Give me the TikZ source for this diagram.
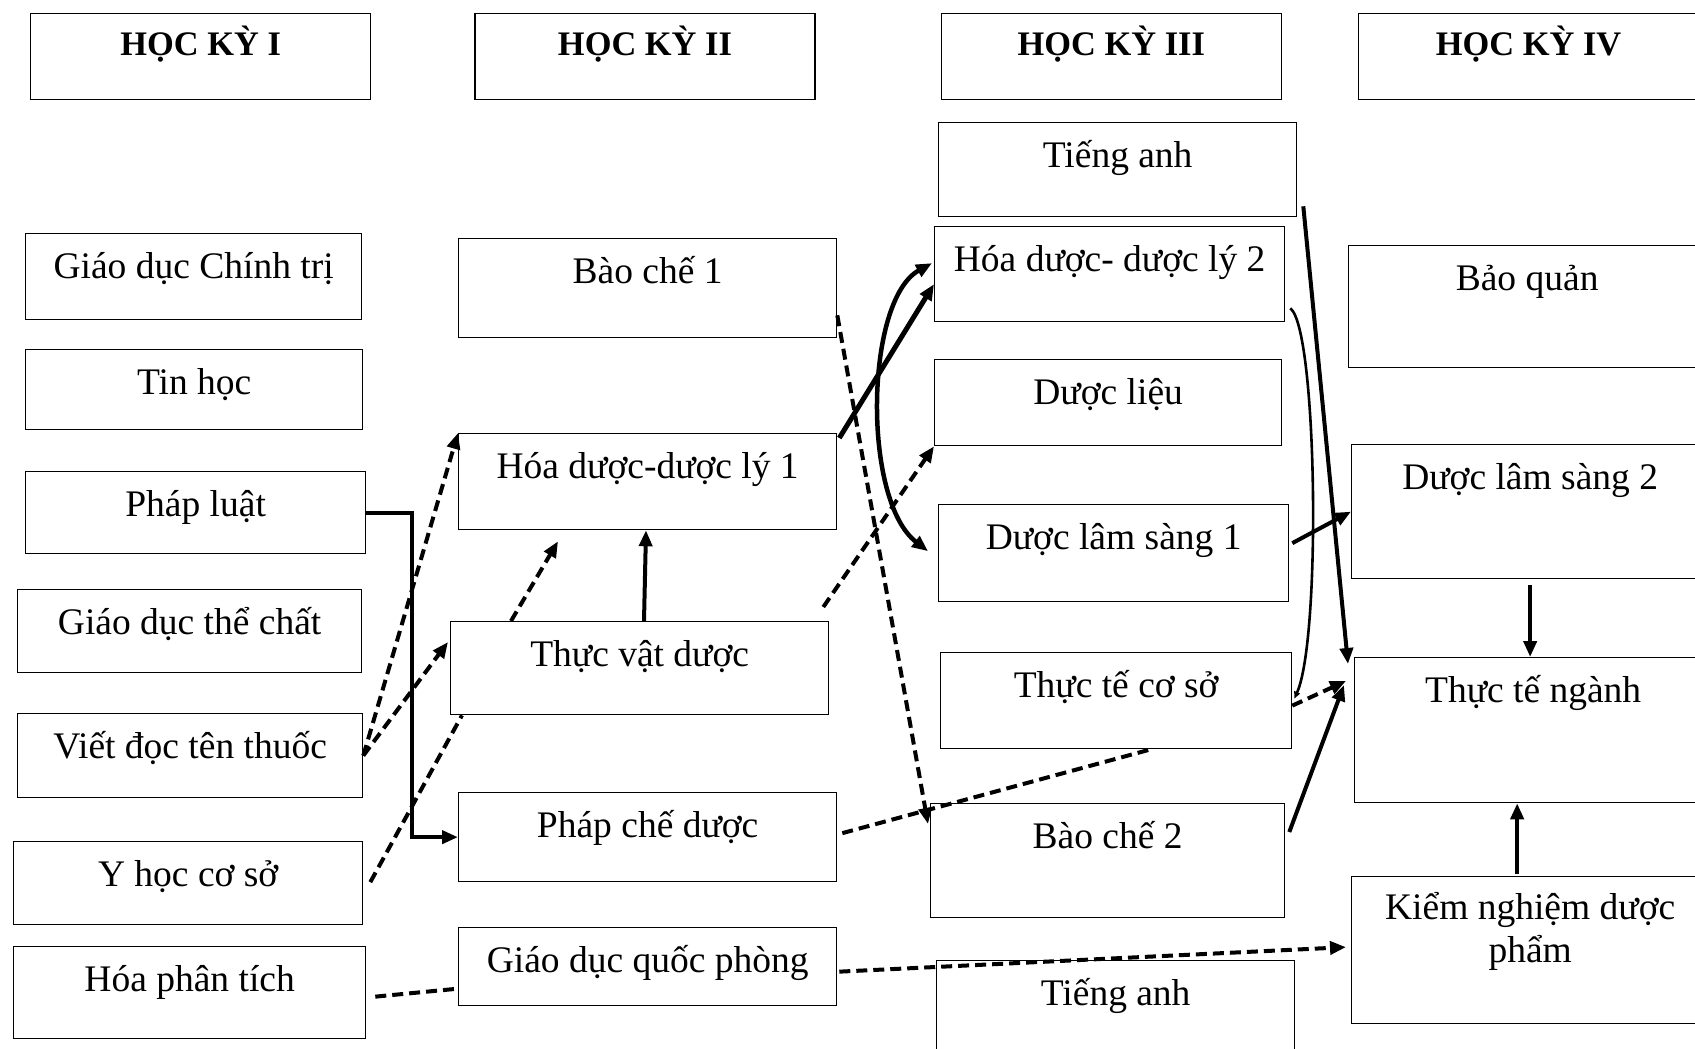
\documentclass[tikz,border=0pt]{standalone}
\usepackage{fontspec}
\setmainfont{Liberation Serif}
\usetikzlibrary{arrows.meta,calc}

\begin{document}
\begin{tikzpicture}[x=1pt, y=-1pt,
    font=\fontsize{37.5pt}{43pt}\selectfont,
    >={Triangle[length=16pt,width=13pt]},
    box/.style={draw, rectangle, line width=1.3pt, anchor=north west, inner sep=0pt, text height=45pt, align=center},
    head/.style={box, font=\bfseries\fontsize{34.4pt}{40pt}\selectfont, minimum width=340pt, text height=42pt, text depth=44pt},
    link/.style={line width=4pt, ->},
    dlink/.style={link, dash pattern=on 11pt off 6pt}]
    \clip (0,0) rectangle (1695,1049);
    % hoc ky
    \node[head] (hk1) at (30,13) {HỌC KỲ I};
    \node[head] (hk2) at ([xshift=103pt]hk1.north east) {HỌC KỲ II};
    \node[head] (hk3) at ([xshift=125pt]hk2.north east) {HỌC KỲ III};
    \node[head] (hk4) at ([xshift=76pt]hk3.north east) {HỌC KỲ IV};
    % hoc ky I
    \node[box, minimum width=336pt, text depth=41pt] (chinhtri) at (25,233) {Giáo dục Chính trị};
    \node[box, minimum width=337pt, text depth=35pt] (tinhoc) at (25,349) {Tin học};
    \node[box, minimum width=340pt, text depth=37pt] (phapluat) at (25,471) {Pháp luật};
    \node[box, minimum width=344pt, text depth=38pt] (thechat) at (17,589) {Giáo dục thể chất};
    \node[box, minimum width=345pt, text depth=39pt] (tenthuoc) at (17,713) {Viết đọc tên thuốc};
    \node[box, minimum width=349pt, text depth=38pt] (yhoc) at (13,841) {Y học cơ sở};
    \node[box, minimum width=352pt, text depth=47pt] (phantich) at (13,946) {Hóa phân tích};
    % hoc ky II
    \node[box, minimum width=378pt, text depth=54pt] (baoche1) at (458,238) {Bào chế 1};
    \node[box, minimum width=378pt, text depth=51pt] (hoaduoc1) at (458,433) {Hóa dược-dược lý 1};
    \node[box, minimum width=378pt, text depth=48pt] (thucvat) at (450,621) {Thực vật dược};
    \node[box, minimum width=378pt, text depth=44pt] (phapche) at (458,792) {Pháp chế dược};
    \node[box, minimum width=378pt, text depth=33pt] (quocphong) at (458,927) {Giáo dục quốc phòng};
    % hoc ky III
    \node[box, minimum width=358pt, text depth=49pt] (tienganh1) at (938,122) {Tiếng anh};
    \node[box, minimum width=350pt, text depth=50pt] (hoaduoc2) at (934,226) {Hóa dược- dược lý 2};
    \node[box, minimum width=347pt, text depth=41pt] (duoclieu) at (934,359) {Dược liệu};
    \node[box, minimum width=350pt, text depth=52pt] (lamsang1) at (938,504) {Dược lâm sàng 1};
    \node[box, minimum width=351pt, text depth=51pt] (thucte1) at (940,652) {Thực tế cơ sở};
    \node[box, minimum width=354pt, text depth=69pt] (baoche2) at (930,803) {Bào chế 2};
    \node[box, minimum width=358pt, text depth=75pt] (tienganh2) at (936,960) {Tiếng anh};
    % hoc ky IV
    \node[box, minimum width=357pt, text depth=77pt] (baoquan) at (1348,245) {Bảo quản};
    \node[box, minimum width=357pt, text depth=89pt] (lamsang2) at (1351,444) {Dược lâm sàng 2};
    \node[box, minimum width=357pt, text depth=100pt] (thucte2) at (1354,657) {Thực tế ngành};
    \node[box, minimum width=357pt, text height=86pt, text depth=61pt] (kiemnghiem) at (1351,876) {Kiểm nghiệm dược\\ phẩm};

    % I -> II
    \draw[link] (phapluat.east) -- ++(46,0) |- (phapche.west);
    \draw[dlink] (tenthuoc.east) -- (hoaduoc1.north west);
    \draw[dlink] (tenthuoc.east) -- ($(thucvat.north west)+(-2,21)$);
    \draw[dlink, -] ($(yhoc.east)+(7,-1)$) -- ($(thucvat.south west)+(12,0)$);
    \draw[dlink, -] ($(phantich.east)+(9,4)$) -- ($(quocphong.west)+(0,22)$);
    % II
    \draw[dlink] ($(thucvat.north west)+(61,0)$) -- ($(hoaduoc1.south west)+(100,11)$);
    \draw[link] ($(thucvat.north west)+(194,0)$) -- ($(hoaduoc1.south west)+(188,0)$);
    % II -> III
    \draw[link, line width=5pt] ($(hoaduoc1.north east)+(2,5)$) -- ($(hoaduoc2.west)+(0,10)$);
    \draw[dlink] ($(baoche1.south east)+(0,-23)$) -- ($(baoche2.north west)+(-2,21)$);
    \draw[dlink] ($(thucvat.north east)+(-6,-14)$) -- (duoclieu.south west);
    \draw[dlink, -] ($(phapche.east)+(5,-4)$) -- ($(thucte1.south west)+(211,0)$);
    \draw[dlink] ($(quocphong.east)+(2,5)$) -- ($(kiemnghiem.west)+(-5,-3)$);
    % III
    \draw[link, line width=4.5pt, <->] ($(hoaduoc2.west)+(-2,-11)$) .. controls +(-67,37) and +(-66,-51) .. ($(lamsang1.west)+(-10,-2)$);
    % III -> IV
    \draw[link, line width=2.6pt, >={Triangle[length=7pt,width=6pt]}] ($(hoaduoc2.south east)+(5,-14)$) .. controls +(27,20) and +(27,-60) .. ($(thucte1.east)+(2,-2)$);
    \draw[link] ($(tienganh1.south east)+(6,-11)$) -- ($(thucte2.north west)+(-6,7)$);
    \draw[link] ($(lamsang1.east)+(3,-10)$) -- (lamsang2.west);
    \draw[dlink] ($(thucte1.east)+(0,5)$) -- ($(thucte2.north west)+(-8,24)$);
    \draw[link] ($(baoche2.north east)+(4,29)$) -- ($(thucte2.north west)+(-10,28)$);
    % IV
    \draw[link, shorten <=6pt] (lamsang2.south) -- (lamsang2.south |- thucte2.north);
    \draw[link] ($(kiemnghiem.north)+(-13,-2)$) -- ($(thucte2.south)+(-16,0)$);
\end{tikzpicture}
\end{document}
